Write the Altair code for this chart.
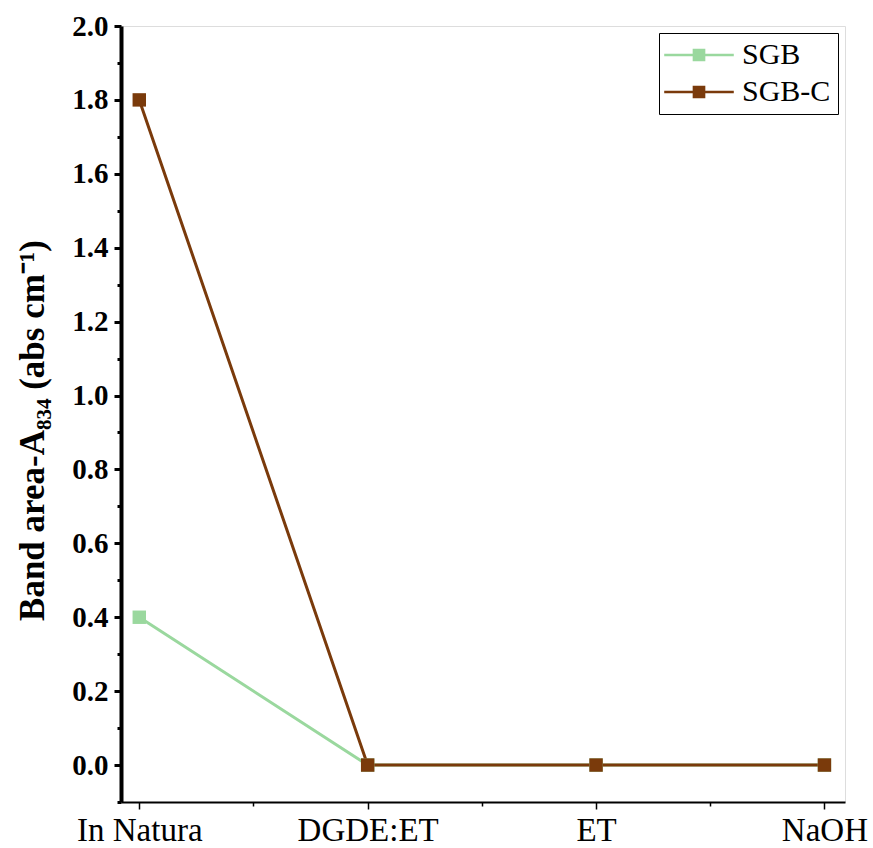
import altair as alt
import pandas as pd

categories = ["In Natura", "DGDE:ET", "ET", "NaOH"]
series = ["SGB", "SGB-C"]
sgb = [0.4, 0.0, 0.0, 0.0]
sgb_c = [1.8, 0.0, 0.0, 0.0]
colors = ["#9ad89e", "#7a3a0b"]

rows = []
for name, vals in zip(series, [sgb, sgb_c]):
    for i, (c, v) in enumerate(zip(categories, vals)):
        rows.append({"idx": i, "cat": c, "series": name, "value": v})
df = pd.DataFrame(rows)

FONT = "Liberation Serif"
label_expr = "datum.value % 1 === 0 ? " + str(categories) + "[datum.value] : ''"

x = alt.X(
    "idx:Q",
    scale=alt.Scale(domain=[-0.08, 3.09], nice=False, zero=False),
    axis=alt.Axis(
        values=[0, 0.5, 1, 1.5, 2, 2.5, 3],
        labelExpr=label_expr,
        title=None,
        grid=False,
        domainColor="black",
        domainWidth=2,
        tickColor="black",
        tickWidth=1.5,
        tickSize={"condition": {"test": "datum.value % 1 === 0", "value": 7}, "value": 4},
        labelFont=FONT,
        labelFontSize=33,
        labelColor="black",
        labelPadding=5,
        labelFlush=False,
        labelOverlap=False,
    ),
)
y = alt.Y(
    "value:Q",
    scale=alt.Scale(domain=[-0.1, 2.0], nice=False, zero=False),
    axis=alt.Axis(
        values=[round(-0.1 + 0.1 * k, 1) for k in range(22)],
        labelExpr="(round(datum.value*10) % 2 === 0) ? format(datum.value, '.1f') : ''",
        title="Band area-A₈₃₄ (abs cm⁻¹)",
        titleFont=FONT,
        titleFontSize=35,
        titleFontWeight="bold",
        titleColor="black",
        titleX=-89,
        titleY=404,
        titleBaseline="middle",
        grid=False,
        domainColor="black",
        domainWidth=4,
        tickColor="black",
        tickWidth=3,
        tickSize={"condition": {"test": "round(datum.value*10) % 2 === 0", "value": 7}, "value": 4},
        labelFont=FONT,
        labelFontSize=29,
        labelFontWeight="bold",
        labelColor="black",
        labelPadding=6,
        labelFlush=False,
        labelOverlap=False,
    ),
)
color_scale = alt.Scale(domain=series, range=colors)

lines = alt.Chart(df).mark_line(strokeWidth=3).encode(
    x=x, y=y,
    stroke=alt.Stroke("series:N", scale=color_scale, legend=None),
    detail="series:N",
)
points = alt.Chart(df).mark_point(shape="square", filled=True, size=180, opacity=1).encode(
    x=x, y=y,
    fill=alt.Fill(
        "series:N",
        scale=color_scale,
        legend=alt.Legend(
            title=None,
            orient="none",
            legendX=538,
            legendY=7,
            symbolType="M-5.5,-0.2H5.5V0.2H-5.5Z M-1,-1H1V1H-1Z",
            symbolSize=160,
            symbolStrokeWidth=0,
            symbolOpacity=1,
            symbolOffset=18,
            labelOffset=28,
            labelFont=FONT,
            labelFontSize=30,
            labelColor="black",
            strokeColor="black",
            padding=7,
            rowPadding=7,
        ),
    ),
)

chart = alt.layer(lines, points).resolve_scale(fill="independent", stroke="independent").properties(
    width=724,
    height=776,
    padding={"left": 121, "top": 26, "right": 28, "bottom": 46},
    autosize=alt.AutoSizeParams(type="none"),
).configure_view(stroke="#555555", strokeWidth=1).configure(background="white")

chart.save("out.html", embed_options={"renderer": "svg", "actions": False})
